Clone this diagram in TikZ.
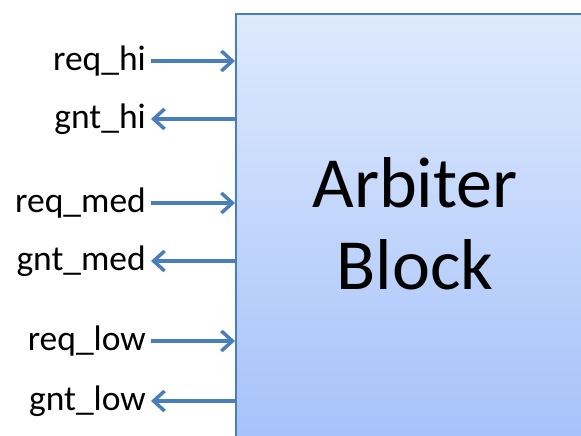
\documentclass[tikz,border=0pt]{standalone}
\usepackage{fontspec}
\setmainfont{Carlito}
\usetikzlibrary{arrows.meta}
\definecolor{wire}{RGB}{74,126,187}
\definecolor{blktop}{RGB}{222,233,253}
\definecolor{blkbot}{RGB}{164,193,250}
\begin{document}
\begin{tikzpicture}[x=1pt,y=1pt,
  sig/.style={draw=wire,line width=3.5pt,-{Straight Barb[length=11pt,width=20pt]}},
  port/.style={anchor=east,inner sep=5pt,font=\fontsize{35.5}{42}\selectfont}]
\useasboundingbox (0,0) rectangle (581,436);
\clip (0,0) rectangle (581,436);
\node[draw=wire,line width=2pt,top color=blktop,bottom color=blkbot,
  anchor=north west,minimum width=400,minimum height=440,inner sep=0] (blk) at (235,423) {};
\node[align=center,font=\fontsize{72}{82}\selectfont] (title) at (415,212) {Arbiter\\Block};
\foreach \nm/\txt/\y in {reqhi/req\_hi/375,reqmed/req\_med/233,reqlow/req\_low/95}{
  \node[port] (\nm) at (151,\y) {\txt};
  \draw[sig] (\nm.east) -- (\nm.east -| blk.west);
}
\foreach \nm/\txt/\y in {gnthi/gnt\_hi/317,gntmed/gnt\_med/175,gntlow/gnt\_low/35}{
  \node[port] (\nm) at (151,\y) {\txt};
  \draw[sig] (\nm.east -| blk.west) -- (\nm.east);
}
\end{tikzpicture}
\end{document}
